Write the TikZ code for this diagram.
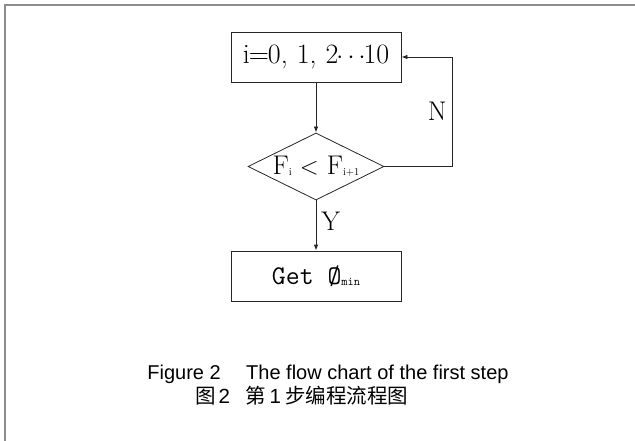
\documentclass[tikz,border=0pt]{standalone}
\usepackage{fontspec}
\setmainfont{Latin Modern Roman}
\setmonofont{Latin Modern Mono}
\newfontfamily\capfont{Liberation Sans}
\newfontfamily\cjk{Noto Sans CJK SC}
\usetikzlibrary{shapes.geometric,arrows.meta}

\begin{document}
\begin{tikzpicture}[x=1pt,y=-1pt,
  line/.style={draw=black!85, line width=0.8pt},
  arr/.style={line, -{Latex[length=6pt,width=4.5pt]}},
  procbox/.style={line, rectangle, minimum width=170pt, minimum height=50pt, inner sep=0pt},
  decision/.style={line, diamond, minimum width=136pt, minimum height=67pt, aspect=2.03, inner sep=0pt},
  bigtext/.style={font=\fontsize{27}{29}\selectfont},
  capline/.style={font=\capfont\fontsize{20}{22}\selectfont, inner sep=0pt},
  cjkline/.style={font=\cjk\fontsize{20.5}{23}\selectfont, inner sep=0pt}
]
\useasboundingbox (0,0) rectangle (635,441);
% frame edges
\draw[draw=black!45, line width=2pt] (4,5) -- (635,5);
\draw[draw=black!45, line width=2pt] (5,4) -- (5,441);

% flow chart nodes
\node[procbox, font=\fontsize{28}{30}\selectfont] (loop) at (316,57)
  {i\kern-1pt=\kern-1pt0,\hspace{9pt}1,\hspace{9pt}2\kern-2pt$\cdots$\kern-2pt10};
\node[decision] (test) at (316,166.5)
  {\fontsize{27}{29}\selectfont F\raisebox{-1pt}{\fontsize{10.5}{11}\selectfont i}\hspace{8pt}$<$\hspace{8pt}F\raisebox{-1pt}{\fontsize{10.5}{11}\selectfont i+1}};
\node[procbox] (get) at (316,276)
  {\ttfamily\fontsize{27}{29}\selectfont Get Ø\raisebox{-1pt}{\fontsize{12}{13}\selectfont min}};
\coordinate (c1) at (452,166.5);
\coordinate (c2) at (452,57);

% connectors
\draw[arr] (loop) -- (test);
\draw[arr] (test) -- node[right, bigtext, inner sep=5pt, pos=0.42] (ylab) {Y} (get);
\draw[arr] (test.east) -- (c1) -- node[left, bigtext, inner sep=5pt, pos=0.5] (nlab) {N} (c2) -- (loop.east);

% caption
\node[capline, anchor=base east] (f1) at (221,379) {Figure 2};
\node[capline, anchor=base west] (f2) at (246,379) {The flow chart of the first step};
\node[cjkline, anchor=base west] (g1) at (195,403) {图\hspace{3pt}\capfont 2};
\node[cjkline, anchor=base west] (g2) at (245,403) {第\hspace{4pt}\capfont 1\hspace{4pt}\cjk 步编程流程图};
\end{tikzpicture}
\end{document}
